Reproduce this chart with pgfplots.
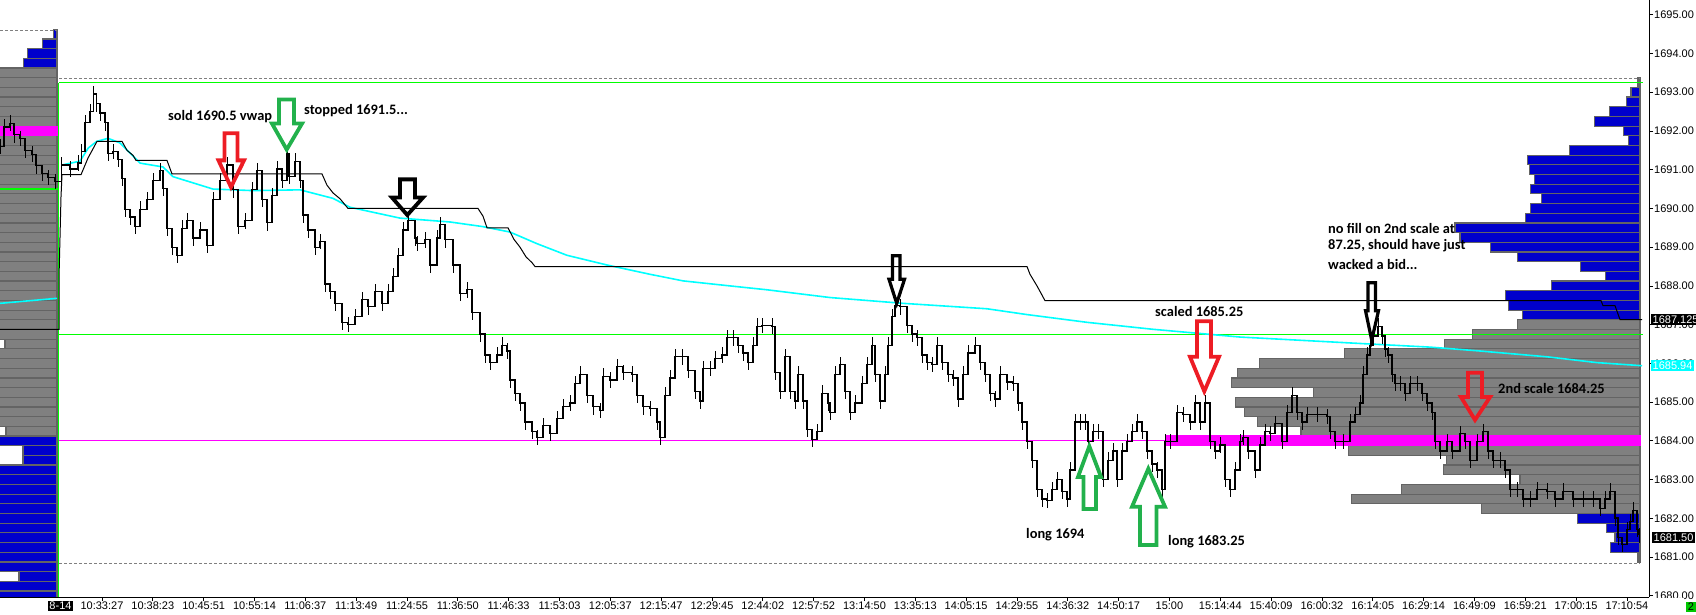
\documentclass[border=0pt]{standalone}
\usepackage{fontspec}
\setmainfont{Liberation Sans}
\newfontfamily\annfont{Carlito}
\usepackage{pgfplots}
\pgfplotsset{compat=1.18}

\definecolor{mtblue}{RGB}{0,0,204}
\definecolor{mtgray}{RGB}{128,128,128}
\definecolor{mtedge}{RGB}{100,100,100}
\definecolor{mtgreen}{RGB}{0,255,0}
\definecolor{mtmag}{RGB}{255,0,255}
\definecolor{mtcyan}{RGB}{0,255,255}
\definecolor{arrred}{RGB}{237,28,36}
\definecolor{arrgreen}{RGB}{34,177,76}
\definecolor{boxgreen}{RGB}{0,200,0}

\pgfplotsset{
  chartbox/.style={width=1649pt, height=597pt, scale only axis,
    at={(0pt,17pt)}, anchor=south west, ymin=1679.97, ymax=1695.38},
  prof/.style={xbar, bar width=0.25, bar shift=0pt, draw=mtedge, line width=1.2pt},
}
\newcommand{\lbl}{\fontsize{11}{13}\selectfont}
\newcommand{\ann}{\annfont\bfseries\fontsize{14.4}{16}\selectfont}

\begin{document}
\begin{tikzpicture}
\useasboundingbox (0,0) rectangle (1696pt,614pt);

% previous session volume profile (left)
\begin{axis}[chartbox, hide axis, xmin=-57, xmax=1592]
\addplot[prof, fill=mtblue] coordinates {(-3.7,1694.5) (-14.7,1694.25) (-29.7,1694.0) (-33.7,1693.75)};
\addplot[prof, fill=mtgray] coordinates {
 (-80,1693.5) (-80,1693.25) (-80,1693.0) (-80,1692.75) (-80,1692.5) (-80,1692.25)
 (-80,1691.75) (-80,1691.5) (-80,1691.25) (-80,1691.0) (-80,1690.75) (-80,1690.5)
 (-80,1690.25) (-80,1690.0) (-80,1689.75) (-80,1689.5) (-80,1689.25) (-80,1689.0)
 (-80,1688.75) (-80,1688.5) (-80,1688.25) (-80,1688.0) (-80,1687.75) (-80,1687.5)
 (-80,1687.25) (-80,1687.0) (-80,1686.75) (-52,1686.5) (-80,1686.25) (-80,1686.0)
 (-80,1685.75) (-80,1685.5) (-80,1685.25) (-80,1685.0) (-80,1684.75) (-80,1684.5)
 (-51,1684.25)};
\addplot[prof, fill=mtmag, draw=mtmag] coordinates {(-80,1692.0)};
\addplot[prof, fill=mtblue] coordinates {
 (-80,1684.0) (-34,1683.75) (-34,1683.5) (-80,1683.25) (-80,1683.0) (-80,1682.75)
 (-80,1682.5) (-80,1682.25) (-80,1682.0) (-80,1681.75) (-80,1681.5) (-80,1681.25)
 (-80,1681.0) (-80,1680.75) (-38,1680.5) (-80,1680.25) (-80,1680.0)};
\end{axis}

% current session volume profile (right)
\begin{axis}[chartbox, hide axis, xmin=-1640, xmax=9]
\addplot[prof, fill=mtblue] coordinates {
 (-2,1693.25) (-9,1693.0) (-13.3,1692.75) (-30.7,1692.5) (-45.7,1692.25) (-16.7,1692.0)
 (-11.3,1691.75) (-70.7,1691.5) (-112.7,1691.25) (-110.7,1691.0) (-105.7,1690.75)
 (-109.3,1690.5) (-98.7,1690.25) (-109.3,1690.0) (-114.7,1689.75) (-185,1689.5)
 (-180,1689.25) (-149.7,1689.0) (-122.7,1688.75) (-59.3,1688.5) (-34.7,1688.25)
 (-88.3,1688.0) (-134.7,1687.75) (-131.7,1687.5) (-117.7,1687.25)};
\addplot[prof, fill=mtgray] coordinates {
 (-122.7,1687.0) (-167.7,1686.75) (-195.7,1686.5) (-295.7,1686.25) (-380.7,1686.0)
 (-402.7,1685.75) (-408.3,1685.5) (-326.7,1685.25) (-404.7,1685.0) (-395.7,1684.75)
 (-382.7,1684.5) (-339,1684.25) (-291.7,1683.75) (-193.3,1683.5) (-196.7,1683.25)
 (-120,1683.0) (-238.7,1682.75) (-288.7,1682.5) (-158.3,1682.25)};
\addplot[prof, fill=mtmag, draw=mtmag] coordinates {(-474,1684.0)};
\addplot[prof, fill=mtblue] coordinates {
 (-62.3,1682.0) (-33.3,1681.75) (-25,1681.5) (-29.3,1681.25) (-2,1681.0)};
\end{axis}

% price chart
\begin{axis}[chartbox, xmin=0, xmax=1649, clip=false,
  axis x line=bottom, axis y line=right,
  axis line style={-, line width=1pt, black},
  tick align=outside, major tick length=4pt, minor tick length=3pt,
  tick style={black, line width=0.8pt},
  xtick={102.0,152.8,203.7,254.5,305.3,356.2,407.0,457.8,508.6,559.5,610.3,661.1,
         712.0,762.8,813.6,864.5,915.3,966.1,1016.9,1067.8,1118.6,1169.4,1220.3,
         1271.1,1321.9,1372.8,1423.6,1474.4,1525.2,1576.1,1626.9},
  xticklabels={10:33:27,10:38:23,10:45:51,10:55:14,11:06:37,11:13:49,11:24:55,
    11:36:50,11:46:33,11:53:03,12:05:37,12:15:47,12:29:45,12:44:02,12:57:52,
    13:14:50,13:35:13,14:05:15,14:29:55,14:36:32,14:50:17,15:00,15:14:44,
    15:40:09,16:00:32,16:14:05,16:29:14,16:49:09,16:59:21,17:00:15,17:10:54},
  ytick={1680,1681,...,1695},
  yticklabels={1680.00,1681.00,1682.00,1683.00,1684.00,1685.00,1686.00,1687.00,
    1688.00,1689.00,1690.00,1691.00,1692.00,1693.00,1694.00,1695.00},
  minor y tick num=1,
  ticklabel style={font=\lbl},
  xticklabel style={inner sep=1pt},
  yticklabel style={anchor=west, inner sep=1pt},
]
% session lines
\addplot[gray, dash pattern=on 3pt off 2pt, line width=0.8pt] coordinates {(0,1694.6) (57,1694.6)};
\addplot[gray, dash pattern=on 3pt off 2pt, line width=0.8pt] coordinates {(59,1693.35) (1640,1693.35)};
\addplot[gray, dash pattern=on 3pt off 2pt, line width=0.8pt] coordinates {(59,1680.85) (1640,1680.85)};
\addplot[mtgreen, line width=1.5pt] coordinates {(59,1693.25) (1643,1693.25)};
\addplot[mtgreen, line width=1.5pt] coordinates {(59,1686.75) (1643,1686.75)};
\addplot[mtgreen, line width=1.5pt] coordinates {(0,1690.5) (58.7,1690.5)};
\addplot[mtgreen, line width=1.5pt] coordinates {(58.7,1693.25) (58.7,1679.97)};
\addplot[mtmag, line width=1pt] coordinates {(59,1684.0) (1641,1684.0)};

% vwap
\addplot[mtcyan, line width=1.6pt] coordinates {(0,1687.55) (57,1687.68)};
\addplot[mtcyan, line width=1.6pt] coordinates {
 (61.7,1691.12) (80,1691.22) (88.3,1691.56) (96.7,1691.73) (108,1691.81) (120,1691.69)
 (140,1691.17) (163,1691.07) (173,1690.82) (213,1690.5) (253,1690.46) (300,1690.48)
 (333,1690.26) (350,1690.03) (400,1689.75) (450,1689.65) (483,1689.53) (510,1689.39)
 (537,1689.09) (567,1688.79) (607,1688.54) (650,1688.30) (683,1688.13) (730,1688.0)
 (767,1687.90) (830,1687.70) (903,1687.55) (987,1687.41) (1027,1687.26) (1087,1687.06)
 (1153,1686.88) (1240,1686.68) (1363,1686.51) (1430,1686.42) (1480,1686.32)
 (1547,1686.17) (1597,1686.02) (1642,1685.94)};

% high level step line
\addplot[black, line width=1pt] coordinates {
 (0,1686.88) (59,1686.88) (59,1688.2) (61,1690.3) (62,1690.87) (81,1690.87) (88,1691.3)
 (97,1691.73) (122,1691.73) (127,1691.5) (133,1691.37) (136,1691.24) (167,1691.24)
 (172,1690.89) (322,1690.89) (327,1690.6) (333,1690.4) (340,1690.25) (348,1690.0)
 (478,1690.0) (483,1689.8) (487,1689.5) (508,1689.5) (514,1689.2) (520,1689.0)
 (526,1688.75) (532,1688.6) (535,1688.5) (1027,1688.5) (1030,1688.3) (1037,1688.0)
 (1045,1687.62) (1601,1687.62) (1603,1687.49) (1615,1687.49) (1620,1687.13) (1642,1687.13)};

% price bars
\addplot[black, line width=1.3pt, const plot, error bars/.cd, y dir=both, y fixed=0.2,
  error mark=none, error bar style={line width=0.9pt}] coordinates {
 (0,1691.6) (4,1692.1) (10,1692.2) (14,1691.9) (20,1691.8) (25,1691.5) (32,1691.4)
 (36,1691.1) (42,1690.9) (48,1690.8) (55,1690.7)
 (61.7,1691.12) (70,1691.02) (78,1691.17) (81.7,1691.47) (85,1692.21) (90,1692.50)
 (93.3,1692.95) (96.7,1692.70) (100,1692.46) (105,1692.21) (108,1691.42) (113,1691.47)
 (118,1691.27) (122,1690.77) (125,1689.98) (130,1689.78) (135,1689.53) (140,1689.98)
 (147,1690.23) (153,1690.72) (160,1690.97) (163,1690.52) (167,1689.49) (172,1688.99)
 (177,1688.79) (182,1689.49) (187,1689.68) (193,1689.24) (200,1689.44) (207,1689.04)
 (213,1690.23) (220,1690.72) (227,1691.12) (233,1690.48) (238,1689.53) (245,1689.68)
 (252,1690.48) (257,1690.97) (262,1690.23) (267,1689.63) (272,1690.33) (277,1691.02)
 (282,1690.72) (287,1691.42) (289,1690.82) (295,1691.22) (300,1690.72) (303,1689.83)
 (308,1689.44) (315,1688.99) (320,1689.14) (325,1688.05) (330,1687.85) (335,1687.55)
 (342,1687.06) (348,1687.01) (355,1687.21) (362,1687.65) (368,1687.46) (375,1687.85)
 (382,1687.55) (388,1687.85) (393,1688.25) (398,1688.79) (403,1689.44) (408,1689.68)
 (415,1689.24) (417,1689.09) (425,1689.19) (430,1688.54) (437,1689.24) (440,1689.58)
 (445,1689.19) (453,1688.54) (460,1687.80) (467,1687.90) (472,1687.31) (480,1686.76)
 (485,1686.22) (490,1686.02) (497,1686.22) (502,1686.47) (507,1686.32) (510,1685.57)
 (515,1685.23) (520,1684.98) (525,1684.49) (532,1684.24) (537,1684.09) (543,1684.39)
 (550,1684.19) (557,1684.58) (563,1684.88) (570,1684.98) (575,1685.48) (580,1685.72)
 (587,1685.18) (593,1684.88) (600,1684.78) (603,1685.67) (610,1685.57) (617,1685.92)
 (623,1685.77) (632,1685.72) (637,1685.18) (643,1684.88) (650,1684.83) (657,1684.49)
 (660,1684.09) (665,1685.18) (670,1685.62) (675,1686.17) (682,1686.17) (688,1685.82)
 (695,1685.28) (700,1685.03) (703,1685.87) (710,1685.87) (715,1686.12) (722,1686.22)
 (727,1686.66) (733,1686.66) (738,1686.47) (743,1686.27) (748,1686.02) (753,1686.47)
 (757,1686.96) (762,1686.98) (772,1686.96) (775,1685.77) (780,1685.28) (785,1686.17)
 (790,1685.28) (795,1685.03) (798,1685.72) (803,1685.03) (807,1684.29) (812,1684.04)
 (817,1684.24) (822,1685.23) (828,1684.98) (830,1684.73) (835,1685.72) (840,1685.97)
 (845,1685.28) (850,1684.73) (855,1684.98) (862,1685.48) (867,1685.97) (872,1686.47)
 (875,1685.72) (880,1685.03) (885,1685.72) (888,1686.47) (892,1687.21) (895,1687.50)
 (900,1687.46) (907,1686.98) (912,1686.76) (917,1686.66) (922,1686.22) (927,1686.02)
 (932,1685.97) (937,1686.47) (942,1686.02) (948,1685.72) (953,1685.62) (958,1685.08)
 (963,1685.72) (968,1686.27) (975,1686.47) (980,1686.02) (985,1685.72) (990,1685.23)
 (995,1685.08) (1000,1685.72) (1007,1685.52) (1013,1685.48) (1018,1684.98) (1022,1684.49)
 (1027,1683.99) (1032,1683.50) (1037,1682.75) (1042,1682.50) (1047,1682.46) (1052,1682.75)
 (1057,1683.00) (1062,1682.70) (1067,1682.50) (1070,1683.25) (1075,1684.49) (1080,1684.49)
 (1085,1684.49) (1088,1683.99) (1093,1684.24) (1098,1684.24) (1103,1683.00) (1108,1683.50)
 (1113,1683.74) (1117,1683.00) (1122,1683.74) (1127,1683.99) (1132,1684.24) (1137,1684.49)
 (1142,1684.24) (1147,1683.74) (1152,1683.40) (1157,1683.25) (1162,1682.75) (1165,1683.99)
 (1170,1683.99) (1177,1684.73) (1183,1684.68) (1190,1684.49) (1195,1684.98) (1200,1684.49)
 (1205,1684.98) (1210,1683.99) (1215,1683.74) (1220,1683.89) (1225,1683.00) (1230,1682.75)
 (1235,1683.25) (1240,1683.99) (1243,1684.09) (1248,1683.74) (1255,1683.25) (1260,1683.89)
 (1265,1684.24) (1270,1684.19) (1275,1684.44) (1282,1683.99) (1287,1684.73) (1292,1685.18)
 (1297,1684.73) (1302,1684.49) (1307,1684.68) (1317,1684.68) (1327,1684.63) (1330,1684.24)
 (1335,1683.99) (1343,1683.99) (1350,1684.49) (1355,1684.68) (1360,1684.98) (1363,1685.72)
 (1367,1686.22) (1370,1686.47) (1373,1686.71) (1378,1686.96) (1382,1686.71) (1385,1686.37)
 (1388,1686.22) (1392,1685.72) (1395,1685.48) (1400,1685.48) (1405,1685.23) (1410,1685.48)
 (1417,1685.48) (1422,1685.23) (1427,1684.98) (1432,1684.73) (1435,1683.99) (1440,1683.74)
 (1447,1683.99) (1452,1683.74) (1460,1684.19) (1465,1683.99) (1470,1683.50) (1477,1683.99)
 (1483,1684.24) (1488,1683.74) (1493,1683.50) (1500,1683.50) (1505,1683.25) (1510,1682.75)
 (1517,1682.75) (1523,1682.50) (1530,1682.50) (1537,1682.75) (1547,1682.70) (1555,1682.50)
 (1563,1682.70) (1573,1682.50) (1583,1682.50) (1593,1682.50) (1600,1682.26) (1605,1682.50)
 (1610,1682.70) (1615,1682.01) (1618,1681.51) (1622,1681.32) (1627,1681.71) (1630,1681.91)
 (1633,1682.21) (1637,1681.71) (1639,1681.56)};

% trade arrows
\draw[arrred, line width=3.8pt, line join=miter] (axis cs:224.5,1691.94) -- (axis cs:237.5,1691.94) -- (axis cs:237.5,1691.24) -- (axis cs:244,1691.24) -- (axis cs:231,1690.55) -- (axis cs:218.5,1691.24) -- (axis cs:224.5,1691.24) -- cycle;
\draw[arrgreen, line width=3.8pt, line join=miter] (axis cs:279,1692.81) -- (axis cs:294,1692.81) -- (axis cs:294,1692.19) -- (axis cs:302,1692.19) -- (axis cs:286.7,1691.52) -- (axis cs:272,1692.19) -- (axis cs:279,1692.19) -- cycle;
\draw[black, line width=3.8pt, line join=miter] (axis cs:400,1690.75) -- (axis cs:415,1690.75) -- (axis cs:415,1690.28) -- (axis cs:423,1690.28) -- (axis cs:407.3,1689.83) -- (axis cs:392,1690.28) -- (axis cs:400,1690.28) -- cycle;
\draw[black, line width=3.2pt, line join=miter] (axis cs:892.5,1688.78) -- (axis cs:900,1688.78) -- (axis cs:900,1688.17) -- (axis cs:904.5,1688.17) -- (axis cs:896.7,1687.55) -- (axis cs:889,1688.17) -- (axis cs:892.5,1688.17) -- cycle;
\draw[arrred, line width=3.8pt, line join=miter] (axis cs:1197,1687.09) -- (axis cs:1211,1687.09) -- (axis cs:1211,1686.17) -- (axis cs:1219,1686.17) -- (axis cs:1204.3,1685.28) -- (axis cs:1190,1686.17) -- (axis cs:1197,1686.17) -- cycle;
\draw[arrgreen, line width=3.8pt, line join=miter] (axis cs:1089.3,1683.86) -- (axis cs:1101,1683.07) -- (axis cs:1096,1683.07) -- (axis cs:1096,1682.24) -- (axis cs:1083.5,1682.24) -- (axis cs:1083.5,1683.07) -- (axis cs:1078,1683.07) -- cycle;
\draw[arrgreen, line width=3.8pt, line join=miter] (axis cs:1148.3,1683.28) -- (axis cs:1165,1682.3) -- (axis cs:1156.5,1682.3) -- (axis cs:1156.5,1681.31) -- (axis cs:1140,1681.31) -- (axis cs:1140,1682.3) -- (axis cs:1132,1682.3) -- cycle;
\draw[black, line width=3.2pt, line join=miter] (axis cs:1368,1688.08) -- (axis cs:1375.5,1688.08) -- (axis cs:1375.5,1687.36) -- (axis cs:1378.5,1687.36) -- (axis cs:1371.7,1686.6) -- (axis cs:1365.5,1687.36) -- (axis cs:1368,1687.36) -- cycle;
\draw[arrred, line width=3.8pt, line join=miter] (axis cs:1468,1685.76) -- (axis cs:1482,1685.76) -- (axis cs:1482,1685.13) -- (axis cs:1490,1685.13) -- (axis cs:1475,1684.54) -- (axis cs:1461,1685.13) -- (axis cs:1468,1685.13) -- cycle;

% notes
\node[anchor=west, inner sep=0pt, font=\ann] at (axis cs:168,1692.38) {sold 1690.5 vwap};
\node[anchor=west, inner sep=0pt, font=\ann] at (axis cs:304,1692.53) {stopped 1691.5...};
\node[anchor=west, inner sep=0pt, font=\ann] at (axis cs:1328,1689.49) {no fill on 2nd scale at};
\node[anchor=west, inner sep=0pt, font=\ann] at (axis cs:1328,1689.03) {87.25, should have just};
\node[anchor=west, inner sep=0pt, font=\ann] at (axis cs:1328,1688.56) {wacked a bid...};
\node[anchor=west, inner sep=0pt, font=\ann] at (axis cs:1155,1687.33) {scaled 1685.25};
\node[anchor=west, inner sep=0pt, font=\ann] at (axis cs:1498,1685.35) {2nd scale 1684.25};
\node[anchor=west, inner sep=0pt, font=\ann] at (axis cs:1026,1681.58) {long 1694};
\node[anchor=west, inner sep=0pt, font=\ann] at (axis cs:1168,1681.4) {long 1683.25};

% price tags on the scale
\node[anchor=west, fill=black, text=white, inner sep=1.5pt, font=\lbl] at (axis cs:1651,1687.125) {1687.125};
\node[anchor=west, fill=mtcyan, text=white, inner sep=1.5pt, font=\lbl] at (axis cs:1651,1685.94) {1685.94};
\node[anchor=west, fill=black, text=white, inner sep=1.5pt, font=\lbl] at (axis cs:1652,1681.50) {1681.50};
\end{axis}

\fill[white] (1651pt,0pt) rectangle (1684pt,16.5pt);
\node[fill=black, text=white, inner sep=1.5pt, font=\lbl] at (60.5pt,8pt) {8-14};
\node[fill=boxgreen, text=black, inner sep=1.5pt, font=\lbl] at (1691pt,7pt) {2};
\end{tikzpicture}
\end{document}
